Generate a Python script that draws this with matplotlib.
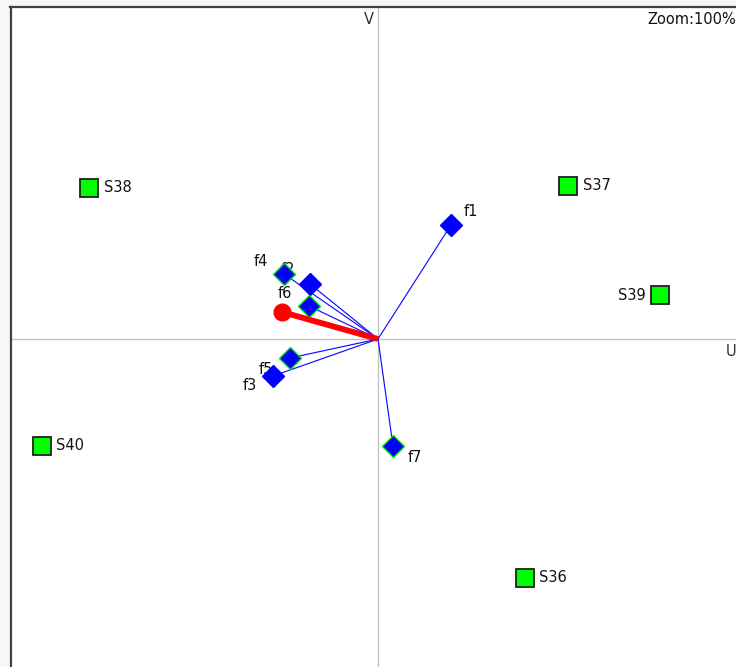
import matplotlib.pyplot as plt

# === データ（U/V 座標） ===
sample_names = ["S36", "S37", "S38", "S39", "S40"]
sample_u = [1.47, 1.90, -2.89, 2.82, -3.36]
sample_v = [-2.39, 1.53, 1.51, 0.44, -1.07]

feature_names = ["f1", "f2", "f3", "f4", "f5", "f6", "f7"]
feature_u = [0.73, -0.68, -1.05, -0.94, -0.88, -0.69, 0.15]
feature_v = [1.14, 0.55, -0.37, 0.65, -0.19, 0.33, -1.07]
feature_green_edge = [False, False, False, True, True, True, True]

target_u = -0.96
target_v = 0.27

# === ラベル位置（ピクセルオフセット） ===
sample_label_offset = {"S36": (14, 0, "left"), "S37": (15, 0, "left"), "S38": (15, 0, "left"),
                       "S39": (-14, 0, "right"), "S40": (14, 0, "left")}
feature_label_offset = {"f1": (20, 13), "f2": (-22, 14), "f3": (-23, -10), "f4": (-23, 12),
                        "f5": (-24, -11), "f6": (-24, 13), "f7": (22, -11)}

W, H = 736, 667
fig = plt.figure(figsize=(W / 100, H / 100), dpi=100, facecolor="#f7f7f7")
left_px, top_px = 10.5, 7
ax = fig.add_axes([left_px / W, 0, 1 - left_px / W, 1 - top_px / H])
ax.set_facecolor("white")
origin_x, origin_y = 378, 339
ax.set_xlim((left_px - origin_x) / 100, (W - origin_x) / 100)
ax.set_ylim((origin_y - H) / 100, (origin_y - top_px) / 100)
ax.set_xticks([])
ax.set_yticks([])
for s in ["right", "bottom"]:
    ax.spines[s].set_visible(False)
for s in ["left", "top"]:
    ax.spines[s].set_color("#404040")
    ax.spines[s].set_linewidth(1.6)

# 軸
ax.axhline(0, color="#c4c4c4", lw=1.0, zorder=0)
ax.axvline(0, color="#c4c4c4", lw=1.0, zorder=0)

font = {"family": "DejaVu Sans", "size": 10.5}

# サンプル
for name, u, v in zip(sample_names, sample_u, sample_v):
    ax.plot(u, v, marker="s", ms=13.5, mfc="#00ff00", mec="#202020", mew=1.3, ls="none", zorder=4)
    dx, dy, ha = sample_label_offset[name]
    ax.annotate(name, (u, v), xytext=(dx, dy), textcoords="offset pixels",
                ha=ha, va="center", color="#111111", **font, zorder=3)

# 特徴ベクトル
for name, u, v, ge in zip(feature_names, feature_u, feature_v, feature_green_edge):
    ax.plot([0, u], [0, v], color="#1010ff", lw=0.85, zorder=2)
    dx, dy = feature_label_offset[name]
    ax.annotate(name, (u, v), xytext=(dx, dy), textcoords="offset pixels",
                ha="center", va="center", color="#111111", **font, zorder=3)
for u, v, ge in zip(feature_u, feature_v, feature_green_edge):
    ax.plot(u, v, marker="D", ms=11, mfc="#0000ff", mec="#00e000" if ge else "#0000ff",
            mew=1.0, ls="none", zorder=4)

# 赤いベクトル
ax.plot([0, target_u], [0, target_v], color="#ff0000", lw=4.2, solid_capstyle="butt", zorder=5)
ax.plot(target_u, target_v, marker="o", ms=12, color="#ff0000", zorder=5)

# 軸ラベルなど
fig.text(369 / W, 1 - 20 / H, "V", ha="center", va="center", color="#303030", **font)
fig.text(726 / W, 1 - 352 / H, "U", ha="left", va="center", color="#303030", **font)
fig.text(736 / W, 1 - 20 / H, "Zoom:100%", ha="right", va="center", color="#111111", **font)

fig.savefig("out.png", dpi=100, facecolor=fig.get_facecolor())
